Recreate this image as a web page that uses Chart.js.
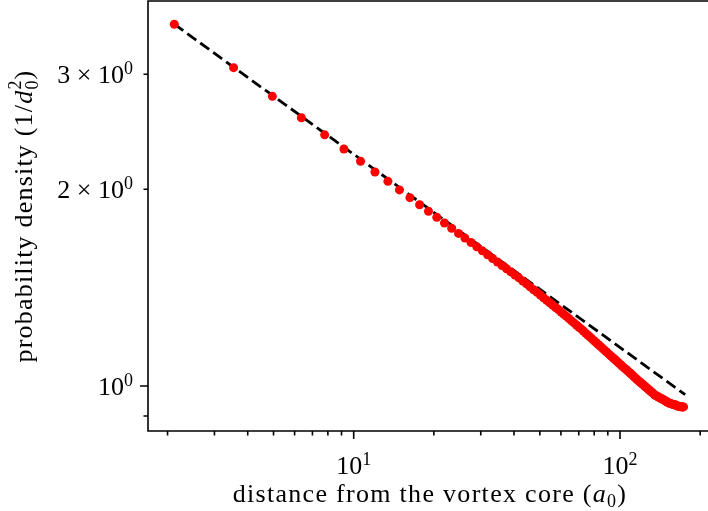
<!DOCTYPE html>
<html>
<head>
<meta charset="utf-8">
<script src="https://cdn.jsdelivr.net/npm/chart.js@4.4.0/dist/chart.umd.min.js"></script>
<style>
  html, body { margin: 0; padding: 0; background: #fff; }
</style>
</head>
<body>
<canvas id="chart" width="708" height="511"></canvas>
<script>
// distance from the vortex core (a0), one dot per shell
const distance = [
    2.12, 3.54, 4.95, 6.36, 7.78, 9.19, 10.61, 12.02, 13.44, 14.85,
    16.26, 17.68, 19.09, 20.51, 21.92, 23.33, 24.75, 26.16, 27.58, 28.99,
    30.41, 31.82, 33.23, 34.65, 36.06, 37.48, 38.89, 40.31, 41.72, 43.13,
    44.55, 45.96, 47.38, 48.79, 50.20, 51.62, 53.03, 54.45, 55.86, 57.28,
    58.69, 60.10, 61.52, 62.93, 64.35, 65.76, 67.18, 68.59, 70.00, 71.42,
    72.83, 74.25, 75.66, 77.07, 78.49, 79.90, 81.32, 82.73, 84.15, 85.56,
    86.97, 88.39, 89.80, 91.22, 92.63, 94.05, 95.46, 96.87, 98.29, 99.70,
    101.12, 102.53, 103.94, 105.36, 106.77, 108.19, 109.60, 111.02, 112.43, 113.84,
    115.26, 116.67, 118.09, 119.50, 120.92, 122.33, 123.74, 125.16, 126.57, 127.99,
    129.40, 130.81, 132.23, 133.64, 135.06, 136.47, 137.89, 139.30, 140.71, 142.13,
    143.54, 144.96, 146.37, 147.79, 149.20, 150.61, 152.03, 153.44, 154.86, 156.27,
    157.69, 159.10, 160.51, 161.93, 163.34, 164.76, 166.17, 167.58, 169.00, 170.41,
    171.83, 173.24
];
// probability density (1/d0^2)
const density = [
    3.578, 3.070, 2.775, 2.573, 2.423, 2.305, 2.208, 2.126, 2.057, 1.996,
    1.942, 1.894, 1.851, 1.812, 1.776, 1.743, 1.712, 1.684, 1.658, 1.633,
    1.610, 1.588, 1.567, 1.548, 1.529, 1.512, 1.495, 1.479, 1.464, 1.448,
    1.433, 1.418, 1.404, 1.391, 1.378, 1.365, 1.353, 1.341, 1.330, 1.319,
    1.309, 1.298, 1.288, 1.278, 1.268, 1.258, 1.249, 1.240, 1.231, 1.223,
    1.214, 1.205, 1.197, 1.189, 1.181, 1.173, 1.166, 1.158, 1.151, 1.144,
    1.137, 1.130, 1.124, 1.117, 1.111, 1.105, 1.099, 1.093, 1.087, 1.081,
    1.076, 1.070, 1.065, 1.060, 1.055, 1.050, 1.045, 1.040, 1.035, 1.030,
    1.025, 1.021, 1.016, 1.012, 1.008, 1.004, 1.000, 0.996, 0.992, 0.988,
    0.984, 0.980, 0.977, 0.973, 0.969, 0.967, 0.965, 0.962, 0.960, 0.958,
    0.956, 0.954, 0.952, 0.949, 0.947, 0.945, 0.943, 0.941, 0.940, 0.939,
    0.938, 0.937, 0.936, 0.935, 0.933, 0.932, 0.931, 0.930, 0.930, 0.929,
    0.929, 0.929
];
// power-law guide (dashed), end points
const fitX = [2.121, 175.7];
const fitY = [3.578, 0.970];

// tick positions and labels
const xMajor = [10, 100];
const xMajorExp = ['1', '2'];
const xMinor = [2, 3, 4, 5, 6, 7, 8, 9, 20, 30, 40, 50, 60, 70, 80, 90, 200];
const yMajor = [1];
const yMinor = [0.9, 2, 3];
const yLabelVals = [3, 2, 1];
const yLabelText = ['3 × 10', '2 × 10', '10'];
const yLabelExp = ['0', '0', '0'];

const SERIF = '"Liberation Serif", "DejaVu Serif", serif';
const F_MAIN = '26px ' + SERIF;
const F_SUP = '18px ' + SERIF;
const F_ITAL = 'italic 26px ' + SERIF;

// draw a run of text pieces: [text, font, dy, advance?]
function drawRun(ctx, parts, x, y, align, spacing) {
    ctx.letterSpacing = spacing || '0px';
    let total = 0;
    const widths = parts.map(p => {
        ctx.font = p[1];
        const w = p[3] === false ? 0 : ctx.measureText(p[0]).width;
        total += w;
        return w;
    });
    let cx = align === 'right' ? x - total : align === 'center' ? x - total / 2 : x;
    parts.forEach((p, i) => {
        ctx.font = p[1];
        ctx.fillText(p[0], cx, y + p[2]);
        cx += widths[i];
    });
    ctx.letterSpacing = '0px';
}

const axesDecor = {
    id: 'axesDecor',
    afterDraw(chart) {
        const { ctx, chartArea: a, scales: { x, y } } = chart;
        ctx.save();
        ctx.strokeStyle = '#000';
        ctx.fillStyle = '#000';
        ctx.lineWidth = 1.6;
        ctx.lineCap = 'butt';

        // spines (the right one falls outside the picture)
        ctx.beginPath();
        ctx.moveTo(a.right, a.top);
        ctx.lineTo(a.left, a.top);
        ctx.lineTo(a.left, a.bottom);
        ctx.lineTo(a.right, a.bottom);
        ctx.stroke();

        // ticks
        ctx.beginPath();
        xMajor.forEach(v => { const p = x.getPixelForValue(v); ctx.moveTo(p, a.bottom); ctx.lineTo(p, a.bottom + 8); });
        xMinor.forEach(v => { const p = x.getPixelForValue(v); ctx.moveTo(p, a.bottom); ctx.lineTo(p, a.bottom + 4.5); });
        yMajor.forEach(v => { const p = y.getPixelForValue(v); ctx.moveTo(a.left, p); ctx.lineTo(a.left - 8, p); });
        yMinor.forEach(v => { const p = y.getPixelForValue(v); ctx.moveTo(a.left, p); ctx.lineTo(a.left - 4.5, p); });
        ctx.stroke();

        // tick labels
        ctx.textBaseline = 'alphabetic';
        ctx.textAlign = 'left';
        xMajor.forEach((v, i) => {
            const p = x.getPixelForValue(v);
            drawRun(ctx, [['10', F_MAIN, 0], [xMajorExp[i], F_SUP, -9]], p, a.bottom + 43, 'center');
        });
        yLabelVals.forEach((v, i) => {
            const p = y.getPixelForValue(v);
            drawRun(ctx, [[yLabelText[i], F_MAIN, 0], [yLabelExp[i], F_SUP, -9]], a.left - 15, p + 8.5, 'right');
        });

        // axis titles
        drawRun(ctx, [
            ['distance from the vortex core (', F_MAIN, 0],
            ['a', F_ITAL, 0],
            ['0', F_SUP, 5],
            [')', F_MAIN, 0]
        ], 430, 502, 'center', '1.3px');

        ctx.save();
        ctx.translate(32, (a.top + a.bottom) / 2);
        ctx.rotate(-Math.PI / 2);
        drawRun(ctx, [
            ['probability density (1/', F_MAIN, 0],
            ['d', F_ITAL, 0],
            ['2', F_SUP, -11, false],
            ['0', F_SUP, 6],
            [')', F_MAIN, 0]
        ], 0, 0, 'center', '1.2px');
        ctx.restore();

        ctx.restore();
    }
};

new Chart(document.getElementById('chart'), {
    type: 'scatter',
    data: {
        datasets: [
            {
                data: distance.map((d, i) => ({ x: d, y: density[i] })),
                pointRadius: 4.5,
                pointHoverRadius: 4.5,
                pointBackgroundColor: '#ff0000',
                pointBorderWidth: 0,
                showLine: false
            },
            {
                data: fitX.map((d, i) => ({ x: d, y: fitY[i] })),
                showLine: true,
                borderColor: '#000000',
                borderWidth: 2.8,
                borderDash: [11, 5],
                pointRadius: 0,
                fill: false
            }
        ]
    },
    options: {
        responsive: false,
        animation: false,
        devicePixelRatio: 1,
        layout: { autoPadding: false, padding: { left: 148, right: 0, top: 1, bottom: 80 } },
        scales: {
            x: { type: 'logarithmic', min: 1.689, max: 214.0, bounds: 'data', display: false },
            y: { type: 'logarithmic', min: 0.8535, max: 3.883, bounds: 'data', display: false }
        },
        plugins: {
            legend: { display: false },
            tooltip: { enabled: false }
        }
    },
    plugins: [axesDecor]
});
</script>
</body>
</html>
